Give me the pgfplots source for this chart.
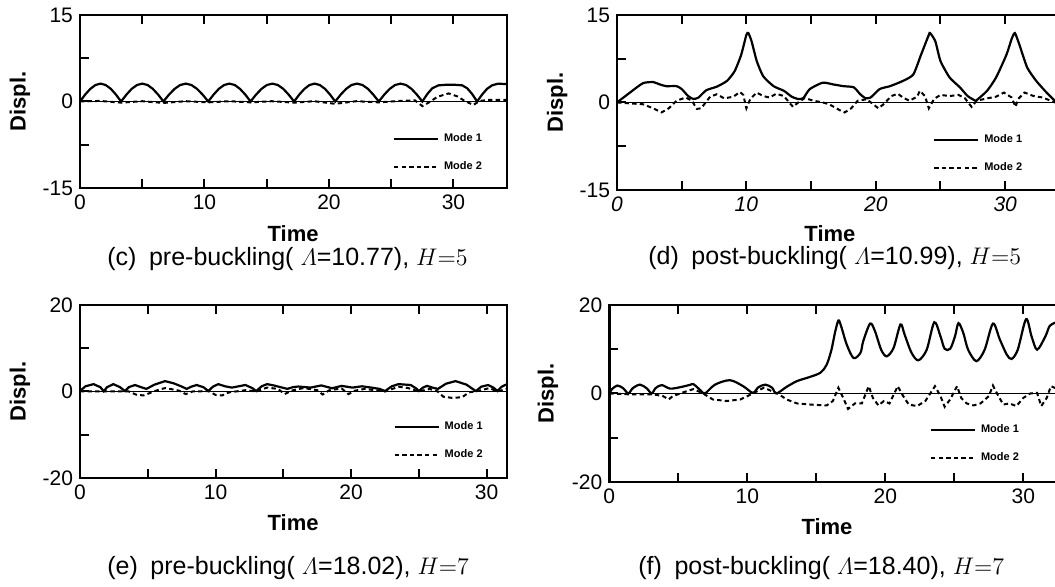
\documentclass[border=0pt]{standalone}
\usepackage{amsmath}
\usepackage{fontspec}
\setmainfont{Liberation Sans}
\usepackage{pgfplots}
\pgfplotsset{compat=1.18}

% one pixel of the reference = 0.5pt
\pgfplotsset{
  panel/.style={
    scale only axis,
    anchor=south west,
    tick align=inside,
    xtick pos=both,
    ytick pos=left,
    major tick length=4.5pt,
    every tick/.style={black, line width=1pt},
    axis line style={line width=1.3pt},
    xtick={0,5,...,30},
    xticklabels={0,,10,,20,,30},
    tick label style={font=\fontsize{10.5}{12}\selectfont},
    label style={font=\fontsize{11}{13}\selectfont\bfseries},
    xlabel={Time},
    ylabel={Displ.},
    extra y ticks={0},
    extra y tick labels={},
    extra y tick style={grid=major, major grid style={black, line width=0.7pt}, tick style={draw=none}},
    legend cell align=left,
    legend image code/.code={\draw[##1] (0pt,0pt) -- (22pt,0pt);},
    legend style={draw=none, fill=none, inner sep=0pt,
      font=\fontsize{5.5}{6.5}\selectfont\bfseries,
      nodes={inner sep=2.5pt}, row sep=3.5pt},
  },
  m1/.style={black, line width=1.1pt},
  m2/.style={black, line width=1pt, dash pattern=on 2.2pt off 1.6pt},
}
\tikzset{capt/.style={anchor=base west, inner sep=0pt, font=\fontsize{12.5}{14}\selectfont}}

\begin{document}
\begin{tikzpicture}

% (c)
\begin{axis}[panel, at={(40pt,199.5pt)}, width=213.5pt, height=86.5pt,
  xmin=0, xmax=34.3, ymin=-15, ymax=15,
  ytick={-15,-7.5,0,7.5,15}, yticklabels={-15,,0,,15},
  ylabel style={at={(axis description cs:-0.1405,0.5)}, anchor=center},
  xlabel style={at={(axis description cs:0.499,0)}, anchor=center, yshift=-23pt},
  legend style={at={(axis cs:25.1,-8.9)}, anchor=west}]
\addplot[m1] coordinates {
(0,0) (0.41,1.19) (0.83,2.19) (1.24,2.86) (1.65,3.1) (2.06,2.86) (2.48,2.19) (2.89,1.19) (3.3,0)
(3.73,1.19) (4.15,2.19) (4.58,2.86) (5.0,3.1) (5.43,2.86) (5.85,2.19) (6.28,1.19) (6.7,0)
(7.15,1.19) (7.6,2.19) (8.05,2.86) (8.5,3.1) (8.95,2.86) (9.4,2.19) (9.85,1.19) (10.3,0)
(10.73,1.19) (11.15,2.19) (11.58,2.86) (12.0,3.1) (12.43,2.86) (12.85,2.19) (13.28,1.19) (13.7,0)
(14.14,1.19) (14.58,2.19) (15.01,2.86) (15.45,3.1) (15.89,2.86) (16.33,2.19) (16.76,1.19) (17.2,0)
(17.61,1.19) (18.03,2.19) (18.44,2.86) (18.85,3.1) (19.26,2.86) (19.68,2.19) (20.09,1.19) (20.5,0)
(20.94,1.19) (21.38,2.19) (21.81,2.86) (22.25,3.1) (22.69,2.86) (23.13,2.19) (23.56,1.19) (24.0,0)
(24.44,1.19) (24.88,2.19) (25.31,2.86) (25.75,3.1) (26.19,2.86) (26.63,2.19) (27.06,1.19) (27.5,0)
(27.9,1.3) (28.3,2.3) (28.8,2.8) (29.4,2.9) (30.1,2.9) (30.7,2.8) (31.1,2.3) (31.5,1.3) (31.9,0)
(32.3,1.2) (32.7,2.2) (33.1,2.8) (33.6,3.1) (34.3,3.0)
};
\addlegendentry{Mode 1}
\addplot[m2] coordinates {
(0,0) (1.6,0.1) (3.3,-0.2) (5.0,0.05) (6.7,-0.25) (8.5,0.05) (10.3,-0.15) (12,0.05)
(13.7,-0.15) (15.4,0.05) (17.2,-0.2) (18.8,0.05) (20.5,-0.4) (22.2,0.05) (24.0,-0.15)
(25.7,0.1) (26.9,0.2) (27.5,-0.8) (28.0,-0.2) (28.7,0.8) (29.6,1.4) (30.3,0.9) (30.9,0.1)
(31.6,-0.6) (32.1,0.1) (33,0.3) (34.3,0.3)
};
\addlegendentry{Mode 2}
\end{axis}

% (d)
\begin{axis}[panel, at={(308.5pt,198.5pt)}, width=223.2pt, height=87.5pt,
  xmin=0, xmax=34.5, ymin=-15, ymax=15,
  ytick={-15,-7.5,0,7.5,15}, yticklabels={-15,,0,,15},
  xticklabel style={font=\fontsize{10.5}{12}\selectfont\itshape},
  ylabel style={at={(axis description cs:-0.134,0.5)}, anchor=center},
  xlabel style={at={(axis description cs:0.477,0)}, anchor=center, yshift=-22pt},
  legend style={at={(axis cs:24.4,-8.8)}, anchor=west}]
\addplot[m1, smooth, tension=0.35] coordinates {
(0,0) (1.0,1.7) (2.0,3.3) (2.8,3.5) (3.3,3.1) (3.8,2.8) (4.6,2.8) (5.0,2.3) (5.5,1.1)
(5.9,0.6) (6.3,0.85) (6.9,2.1) (7.7,2.7) (8.5,3.7) (9.1,5.4) (9.6,8.2) (10.0,11.6)
(10.15,11.9) (10.4,10.5) (10.8,7.1) (11.3,4.5) (12.1,2.8) (12.9,2.0) (13.5,1.0) (14.0,0.6)
(14.4,0.75) (14.9,2.3) (15.9,3.4) (16.7,3.1) (17.5,2.8) (18.3,2.6) (18.8,1.4) (19.2,0.75)
(19.6,0.85) (20.3,2.3) (21.1,2.8) (22.1,3.7) (22.9,4.8) (23.5,8.2) (24.1,11.6) (24.2,11.9)
(24.6,10.5) (25.0,7.1) (25.7,4.3) (26.5,2.6) (27.1,1.1) (27.7,0.3) (27.8,0.4) (28.6,2.0)
(29.3,4.3) (30.1,8.2) (30.5,10.9) (30.75,11.9) (31.1,9.9) (31.7,6.0) (32.4,3.7) (33.2,1.7)
(33.85,0.3) (34.3,0)
};
\addlegendentry{Mode 1}
\addplot[m2] coordinates {
(0,0) (2.0,-0.3) (2.8,-1.0) (3.45,-1.7) (4.0,-1.0) (4.6,0.3) (5.3,0.85) (5.8,0.3)
(6.16,-1.1) (6.5,-1.0) (7.2,1.0) (7.7,1.4) (8.3,0.7) (9.0,1.0) (9.5,1.8) (9.76,1.3)
(10.0,-1.0) (10.3,0.6) (10.8,1.7) (11.3,1.1) (11.8,0.85) (12.3,1.5) (12.9,1.1) (13.2,0.3)
(13.6,-0.75) (14.0,0) (14.5,0.75) (15.2,0.3) (15.9,0) (16.4,-0.3) (17.2,-1.3) (17.6,-1.7)
(18.1,-1.0) (18.6,0.3) (19.3,0.55) (19.8,-0.3) (20.2,-1.0) (20.6,-0.3) (21.2,1.1) (21.7,1.5)
(22.1,0.85) (22.6,0.3) (23.2,1.0) (23.4,2.0) (23.8,1.1) (24.1,-1.0) (24.5,0.6) (25.0,1.3)
(25.7,1.1) (26.4,1.3) (26.9,0.7) (27.4,-0.75) (27.8,0.3) (28.6,0.7) (29.3,1.0) (29.9,1.7)
(30.5,0.85) (30.8,-0.75) (31.0,0.6) (31.5,1.7) (32.2,1.1) (32.9,0.85) (33.85,0) (34.3,0)
};
\addlegendentry{Mode 2}
\end{axis}

% (e)
\begin{axis}[panel, at={(40pt,54.5pt)}, width=213.5pt, height=86.5pt,
  xmin=0, xmax=31.5, ymin=-20, ymax=20,
  ytick={-20,-10,0,10,20}, yticklabels={-20,,0,,20},
  ylabel style={at={(axis description cs:-0.1405,0.5)}, anchor=center},
  xlabel style={at={(axis description cs:0.499,0)}, anchor=center, yshift=-22.5pt},
  legend style={at={(axis cs:23.1,-11.5)}, anchor=west}]
\addplot[m1] coordinates {
(0,0.1) (0.4,1.2) (1.0,1.7) (1.5,1.0) (1.75,0.05) (2.0,1.0) (2.46,1.7) (2.95,1.0)
(3.32,0.1) (3.6,1.0) (4.06,1.5) (4.5,1.0) (4.9,0.6) (5.5,1.6) (6.27,2.4) (6.9,1.9)
(7.5,1.15) (7.87,0.6) (8.2,1.1) (8.6,1.5) (9.1,1.0) (9.47,0.1) (9.8,1.1) (10.2,1.7)
(10.7,1.2) (11.2,0.9) (11.7,1.2) (12.2,1.5) (12.7,0.8) (13.0,0.1) (13.4,1.2) (13.8,1.7)
(14.3,1.4) (14.6,1.15) (15.3,0.6) (15.7,1.0) (16.1,1.15) (17.0,0.9) (17.8,1.4) (18.6,0.75)
(19.3,1.3) (20.1,0.9) (20.8,1.2) (21.5,0.9) (22.1,0.6) (22.5,0.1) (23.0,1.2) (23.5,1.7)
(24.4,1.5) (24.8,0.7) (25.0,0.1) (25.3,0.9) (25.6,1.3) (26.0,0.9) (26.4,0.6) (27.0,1.8)
(27.7,2.4) (28.5,1.6) (29.2,0.1) (29.6,1.1) (30.1,1.5) (30.5,0.9) (30.8,0.1) (31.1,1.1)
(31.5,1.7)
};
\addlegendentry{Mode 1}
\addplot[m2] coordinates {
(0,0) (3.6,0) (4.2,-0.8) (4.7,-0.9) (5.2,-0.3) (5.8,0.4) (6.3,0.8) (7.3,0.2) (7.8,-0.6)
(8.3,0) (9.5,0.1) (10.0,-0.8) (10.5,-0.9) (11.0,-0.2) (12.2,0.3) (13.0,0) (13.8,0.9)
(14.6,0.6) (15.1,-0.6) (15.6,0.2) (16.5,0.8) (17.5,0.3) (17.9,-0.7) (18.4,0.3) (19.3,0.7)
(19.8,-0.6) (20.3,0.2) (21.0,0.6) (22.0,0.2) (22.5,0) (23.5,1.1) (24.2,0.8) (25.0,0)
(25.8,0.6) (26.4,0) (26.8,-1.2) (27.5,-1.5) (28.2,-1.3) (28.7,-0.2) (29.5,0.2) (30.2,0.8)
(30.8,0) (31.5,0.6)
};
\addlegendentry{Mode 2}
\end{axis}

% (f)
\begin{axis}[panel, at={(304.65pt,52.5pt)}, width=227.7pt, height=88.5pt,
  xmin=0, xmax=33, ymin=-20, ymax=20,
  ytick={-20,-10,0,10,20}, yticklabels={-20,,0,,20},
  ylabel style={at={(axis description cs:-0.1346,0.5)}, anchor=center},
  xlabel style={at={(axis description cs:0.478,0)}, anchor=center, yshift=-22.5pt},
  legend style={at={(axis cs:23.2,-11.5)}, anchor=west}]
\addplot[m1, smooth, tension=0.5] coordinates {
(0,0) (0.2,1.0) (0.58,1.8) (1.0,1.2) (1.38,0) (1.7,1.2) (2.22,2.0) (2.7,1.2) (3.07,0)
(3.35,1.2) (3.8,1.9) (4.4,1.1) (5.1,1.4) (5.85,1.95) (6.1,2.1) (6.6,0.75) (6.93,0)
(7.66,2.0) (8.74,3.0) (9.7,1.65) (10.4,0.15) (10.8,1.4) (11.3,2.0) (11.8,1.3) (12.1,0)
(12.85,1.5) (13.6,2.8) (14.5,3.7) (15.3,4.7) (15.75,6.5) (16.1,9.9) (16.35,13.7) (16.6,16.5)
(16.8,15.2) (17.2,11.1) (17.7,8.0) (18.2,9.2) (18.4,11.8) (18.9,15.8) (19.25,14.1) (19.7,9.9)
(20.1,8.4) (20.6,10.3) (21.1,15.6) (21.4,13.3) (21.9,9.2) (22.4,7.5) (23.0,9.9) (23.55,16.1)
(24.0,12.9) (24.3,10.1) (24.7,10.1) (25.05,12.9) (25.3,15.9) (25.65,13.7) (26.0,9.9) (26.6,7.3)
(27.2,9.9) (27.8,15.8) (28.3,12.2) (28.8,8.8) (29.15,7.8) (29.6,9.9) (30.2,16.8) (30.6,12.9)
(31.0,9.9) (31.6,12.9) (31.9,15.2) (32.3,16)
};
\addlegendentry{Mode 1}
\addplot[m2] coordinates {
(0,0) (1.5,-0.2) (3.2,-0.2) (3.9,-0.6) (4.3,-1.35) (4.6,-0.6) (5.4,0.3) (6.1,1.0) (6.8,0)
(7.5,-1.35) (8.5,-1.7) (9.5,-1.35) (10.4,0) (11.2,1.3) (11.8,0.5) (12.2,0) (12.85,-1.35)
(13.6,-2.25) (14.8,-2.55) (15.75,-2.7) (16.2,-1.7) (16.6,1.3) (16.95,-1.0) (17.3,-3.5)
(17.8,-2.25) (18.3,-2.25) (18.8,1.65) (19.1,-1.0) (19.5,-2.7) (19.9,-1.7) (20.3,-2.25)
(20.9,1.65) (21.3,-0.6) (21.7,-2.5) (22.3,-2.85) (22.9,-1.7) (23.6,1.65) (24.0,-0.6)
(24.3,-3.0) (24.7,-1.35) (25.2,1.65) (25.5,-1.0) (25.9,-2.25) (26.4,-2.7) (26.9,-2.25)
(27.5,-0.6) (27.8,1.8) (28.2,-0.6) (28.55,-2.5) (29.0,-2.25) (29.5,-2.85) (30.0,-1.0)
(30.5,0) (31.0,0.15) (31.3,-2.85) (31.7,-1.0) (32.0,1.65) (32.5,1.0)
};
\addlegendentry{Mode 2}
\end{axis}

\node[capt] at (53.5pt,160.5pt) {(c)\enspace pre-buckling( $\varLambda$=10.77), $H{=}5$};
\node[capt] at (324pt,161pt) {(d)\enspace post-buckling( $\varLambda$=10.99), $H{=}5$};
\node[capt] at (53.5pt,6pt) {(e)\enspace pre-buckling( $\varLambda$=18.02), $H{=}7$};
\node[capt] at (319pt,6pt) {(f)\enspace post-buckling( $\varLambda$=18.40), $H{=}7$};

\pgfresetboundingbox
\useasboundingbox (0pt,0pt) rectangle (527.5pt,293.5pt);
\end{tikzpicture}
\end{document}
